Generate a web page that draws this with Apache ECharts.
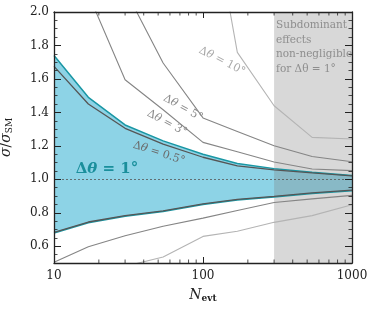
<!DOCTYPE html>
<html><head><meta charset="utf-8">
<script src="https://cdn.jsdelivr.net/npm/echarts@6/dist/echarts.min.js"></script>
<style>html,body{margin:0;padding:0;background:#fff}#c{width:375px;height:309px}</style>
</head><body><div id="c"></div>
<script>
// ---- data ----
const N = [10, 17, 30, 54, 100, 170, 300, 540, 1000];
const band1Upper = [1.74, 1.49, 1.325, 1.23, 1.15, 1.095, 1.064, 1.043, 1.023];
const band1Lower = [0.679, 0.741, 0.779, 0.808, 0.849, 0.876, 0.894, 0.915, 0.932];
const dt05Upper = [1.675, 1.45, 1.305, 1.21, 1.132, 1.08, 1.057, 1.039, 1.021];
const dt05Lower = [0.683, 0.745, 0.783, 0.812, 0.853, 0.880, 0.898, 0.919, 0.936];
const dt3Upper = [2.8, 2.107, 1.595, 1.416, 1.221, 1.165, 1.104, 1.062, 1.052];
const dt5Upper = [3.2, 2.6, 2.134, 1.695, 1.367, 1.286, 1.201, 1.136, 1.105];
const dt10Upper = [6.0, 5.0, 4.0, 3.4, 2.9, 1.759, 1.44, 1.251, 1.241];
const lowerMid = [0.505, 0.597, 0.663, 0.72, 0.768, 0.814, 0.862, 0.883, 0.904];
const lowerLight = [0.36, 0.42, 0.48, 0.536, 0.659, 0.69, 0.743, 0.783, 0.848];
const subdominantRange = [300, 1000];
const referenceLevel = 1.0;
const xRange = [10, 1000];
const yRange = [0.5, 2.0];
const xMinorTicks = [20, 30, 40, 50, 60, 70, 80, 90, 200, 300, 400, 500, 600, 700, 800, 900];
const yTickLabels = [0.6, 0.8, 1.0, 1.2, 1.4, 1.6, 1.8, 2.0];
const yMinorTicks = [0.55, 0.6, 0.65, 0.7, 0.75, 0.8, 0.85, 0.9, 0.95, 1.0, 1.05, 1.1, 1.15, 1.2, 1.25, 1.3, 1.35, 1.4, 1.45, 1.5, 1.55, 1.6, 1.65, 1.7, 1.75, 1.8, 1.85, 1.9, 1.95];

const FONT = 'DejaVu Serif';
const pts = arr => N.map((n, i) => [n, arr[i]]);

function line(data, color, width, z) {
  return { type: 'line', data: pts(data), symbol: 'none', clip: true, z: z || 5,
    lineStyle: { color: color, width: width }, silent: true, animation: false };
}

const axisCol = '#222';
function xAx(pos) {
  return {
    type: 'log', logBase: 10, min: xRange[0], max: xRange[1], position: pos, z: 10,
    axisLine: { show: true, lineStyle: { color: axisCol, width: 1.3 } },
    axisTick: { show: true, inside: true, length: 6, lineStyle: { color: axisCol, width: 1 } },
    axisLabel: { show: pos === 'bottom', fontFamily: FONT, fontSize: 12, color: axisCol, margin: 7,
      formatter: v => String(v) },
    splitLine: { show: false }, minorTick: { show: false }
  };
}
function yAx(pos, major) {
  return {
    type: 'value', min: yRange[0], max: yRange[1], position: pos, z: 10,
    axisLine: { show: major, lineStyle: { color: axisCol, width: 1.3 } },
    axisTick: major ? { show: true, inside: true, length: 7, customValues: yTickLabels, lineStyle: { color: axisCol, width: 1 } }
                    : { show: true, inside: true, length: 3.5, customValues: yMinorTicks, lineStyle: { color: axisCol, width: 0.8 } },
    axisLabel: { show: major && pos === 'left', customValues: yTickLabels, fontFamily: FONT, fontSize: 12, color: axisCol, margin: 5,
      formatter: v => v.toFixed(1) },
    splitLine: { show: false }
  };
}

const xAxes = [xAx('bottom'), xAx('top')];
Object.assign(xAxes[0], {
  name: '{i|N}{s|evt}', nameLocation: 'middle', nameGap: 24,
  nameTextStyle: { rich: {
    i: { fontFamily: FONT, fontStyle: 'italic', fontSize: 14, color: axisCol },
    s: { fontFamily: FONT, fontSize: 9, fontWeight: 'bold', color: axisCol, padding: [7, 0, 0, 0] } } }
});
const yAxes = [yAx('left', true), yAx('left', false), yAx('right', true), yAx('right', false)];
Object.assign(yAxes[0], {
  name: '{i|σ}{n|/}{i|σ}{s|SM}', nameLocation: 'middle', nameGap: 40, nameRotate: 90,
  nameTextStyle: { rich: {
    i: { fontFamily: FONT, fontStyle: 'italic', fontSize: 14, color: axisCol },
    n: { fontFamily: FONT, fontSize: 14, color: axisCol },
    s: { fontFamily: FONT, fontSize: 9, color: axisCol, padding: [7, 0, 0, 0] } } }
});

function lbl(txt, x, y, deg, color, size) {
  return { type: 'text', x: x, y: y, rotation: -deg * Math.PI / 180, z: 20, silent: true,
    style: { text: '{u|Δ}{i|θ}{u| = ' + txt + '}', align: 'center', verticalAlign: 'middle',
      rich: { u: { fontFamily: FONT, fontSize: size, fill: color },
              i: { fontFamily: FONT, fontSize: size, fontStyle: 'italic', fill: color } } } };
}

const minorTickSeries = {
  type: 'custom', silent: true, clip: false, z: 10,
  data: xMinorTicks.map(v => [v, yRange[0]]),
  renderItem: function (params, api) {
    const v = api.value(0);
    const b = api.coord([v, yRange[0]]);
    const t = api.coord([v, yRange[1]]);
    const st = { stroke: axisCol, lineWidth: 0.8 };
    return { type: 'group', children: [
      { type: 'line', shape: { x1: b[0], y1: b[1], x2: b[0], y2: b[1] - 3.5 }, style: st },
      { type: 'line', shape: { x1: t[0], y1: t[1], x2: t[0], y2: t[1] + 3.5 }, style: st }
    ] };
  }
};

const chart = echarts.init(document.getElementById('c'), null, { renderer: 'canvas' });
chart.setOption({
  animation: false,
  backgroundColor: '#fff',
  grid: { left: 54, right: 23, top: 12, bottom: 46, outerBoundsMode: 'none', containLabel: false },
  xAxis: xAxes,
  yAxis: yAxes,
  series: [
    { type: 'line', data: pts(band1Upper), symbol: 'none', lineStyle: { opacity: 0 }, z: 1, silent: true,
      areaStyle: { color: '#8dd3e6', opacity: 1, origin: 'start' } },
    { type: 'line', data: pts(band1Lower), symbol: 'none', lineStyle: { opacity: 0 }, z: 2, silent: true,
      areaStyle: { color: '#ffffff', opacity: 1, origin: 'start' } },
    { type: 'line', data: [], silent: true, z: 3,
      markArea: { silent: true, z: 3, itemStyle: { color: 'rgba(125,125,125,0.30)' },
        data: [[{ xAxis: subdominantRange[0] }, { xAxis: subdominantRange[1] }]] },
      markLine: { silent: true, z: 6, symbol: 'none', label: { show: false },
        lineStyle: { type: [2, 2], color: '#555', width: 0.8 }, data: [{ yAxis: referenceLevel }] } },
    line(dt10Upper, '#b4b4b4', 1.1),
    line(lowerLight, '#b4b4b4', 1.1),
    line(dt5Upper, '#858585', 1.1),
    line(dt3Upper, '#858585', 1.1),
    line(lowerMid, '#858585', 1.1),
    line(band1Upper, '#1a97a4', 1.5, 6),
    line(band1Lower, '#1a97a4', 1.5, 6),
    line(dt05Upper, '#555555', 1.3, 7),
    line(dt05Lower, '#555555', 1.3, 7),
    minorTickSeries
  ],
  graphic: [
    lbl('10°', 222, 61, 27, '#a8a8a8', 11),
    lbl('5°', 183, 108, 29, '#8a8a8a', 11),
    lbl('3°', 167, 123, 28, '#8a8a8a', 11),
    lbl('0.5°', 159, 153, 18, '#6a6a6a', 11),
    { type: 'text', x: 107, y: 169, z: 20, silent: true,
      style: { text: '{u|Δ}{i|θ}{u| = 1°}', align: 'center', verticalAlign: 'middle', fill: '#1a8f9c',
        rich: { u: { fontFamily: FONT, fontSize: 15, fontWeight: 'bold', fill: '#1a8f9c' },
                i: { fontFamily: FONT, fontSize: 15, fontWeight: 'bold', fontStyle: 'italic', fill: '#1a8f9c' } } } },
    { type: 'text', x: 276, y: 18, z: 20, silent: true,
      style: { text: 'Subdominant\neffects\nnon-negligible\nfor {i|Δθ} = 1°', fontFamily: FONT, fontSize: 10.5, lineHeight: 14.7,
        fill: '#8e8e8e', align: 'left', verticalAlign: 'top',
        rich: { i: { fontFamily: FONT, fontSize: 10.5, fill: '#8e8e8e' } } } }
  ]
});
</script></body></html>
